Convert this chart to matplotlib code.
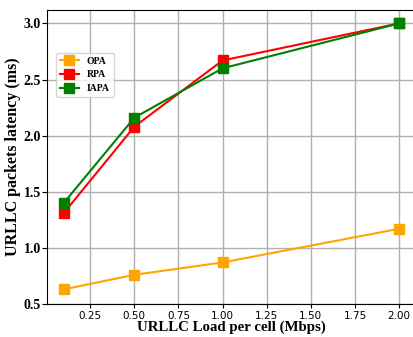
import matplotlib.pyplot as plt

load = [0.1, 0.5, 1.0, 2.0]
opa = [0.63, 0.76, 0.87, 1.17]
rpa = [1.31, 2.08, 2.67, 3.0]
iapa = [1.40, 2.16, 2.60, 3.0]
xticks = [0.25, 0.50, 0.75, 1.00, 1.25, 1.50, 1.75, 2.00]
yticks = [0.5, 1.0, 1.5, 2.0, 2.5, 3.0]

fig = plt.figure(figsize=(4.14, 3.37), dpi=100)
ax = fig.add_axes([0.1135, 0.098, 0.891, 0.872])

ax.plot(load, opa, color="orange", marker="s", markersize=7.5, lw=1.5, label="OPA")
ax.plot(load, rpa, color="red", marker="s", markersize=7.5, lw=1.5, label="RPA")
ax.plot(load, iapa, color="green", marker="s", markersize=7.5, lw=1.5, label="IAPA")

ax.set_ylim(bottom=0.5)
ax.set_xticks(xticks)
ax.set_yticks(yticks)
ax.set_xticklabels([f"{t:.2f}" for t in xticks], fontsize=7.5)
ax.set_yticklabels([f"{t:.1f}" for t in yticks], fontsize=10,
                   family="Liberation Serif", fontweight="bold")
ax.tick_params(axis="x", pad=2, length=3)
ax.tick_params(axis="y", pad=1, length=3.5)
ax.grid(True, color="#b0b0b0", lw=1)
ax.set_axisbelow(True)

ax.set_xlabel("URLLC Load per cell (Mbps)", family="Liberation Serif",
              fontweight="bold", fontsize=10.7, labelpad=0)
ax.set_ylabel("URLLC packets latency (ms)", family="Liberation Serif",
              fontweight="bold", fontsize=11.5, labelpad=2)

ax.legend(loc="upper left", bbox_to_anchor=(0.024, 0.855), borderaxespad=0,
          prop={"family": "Liberation Serif", "weight": "bold", "size": 7},
          handlelength=2.0, markerscale=1.0)

fig.savefig("out.png", dpi=100)
